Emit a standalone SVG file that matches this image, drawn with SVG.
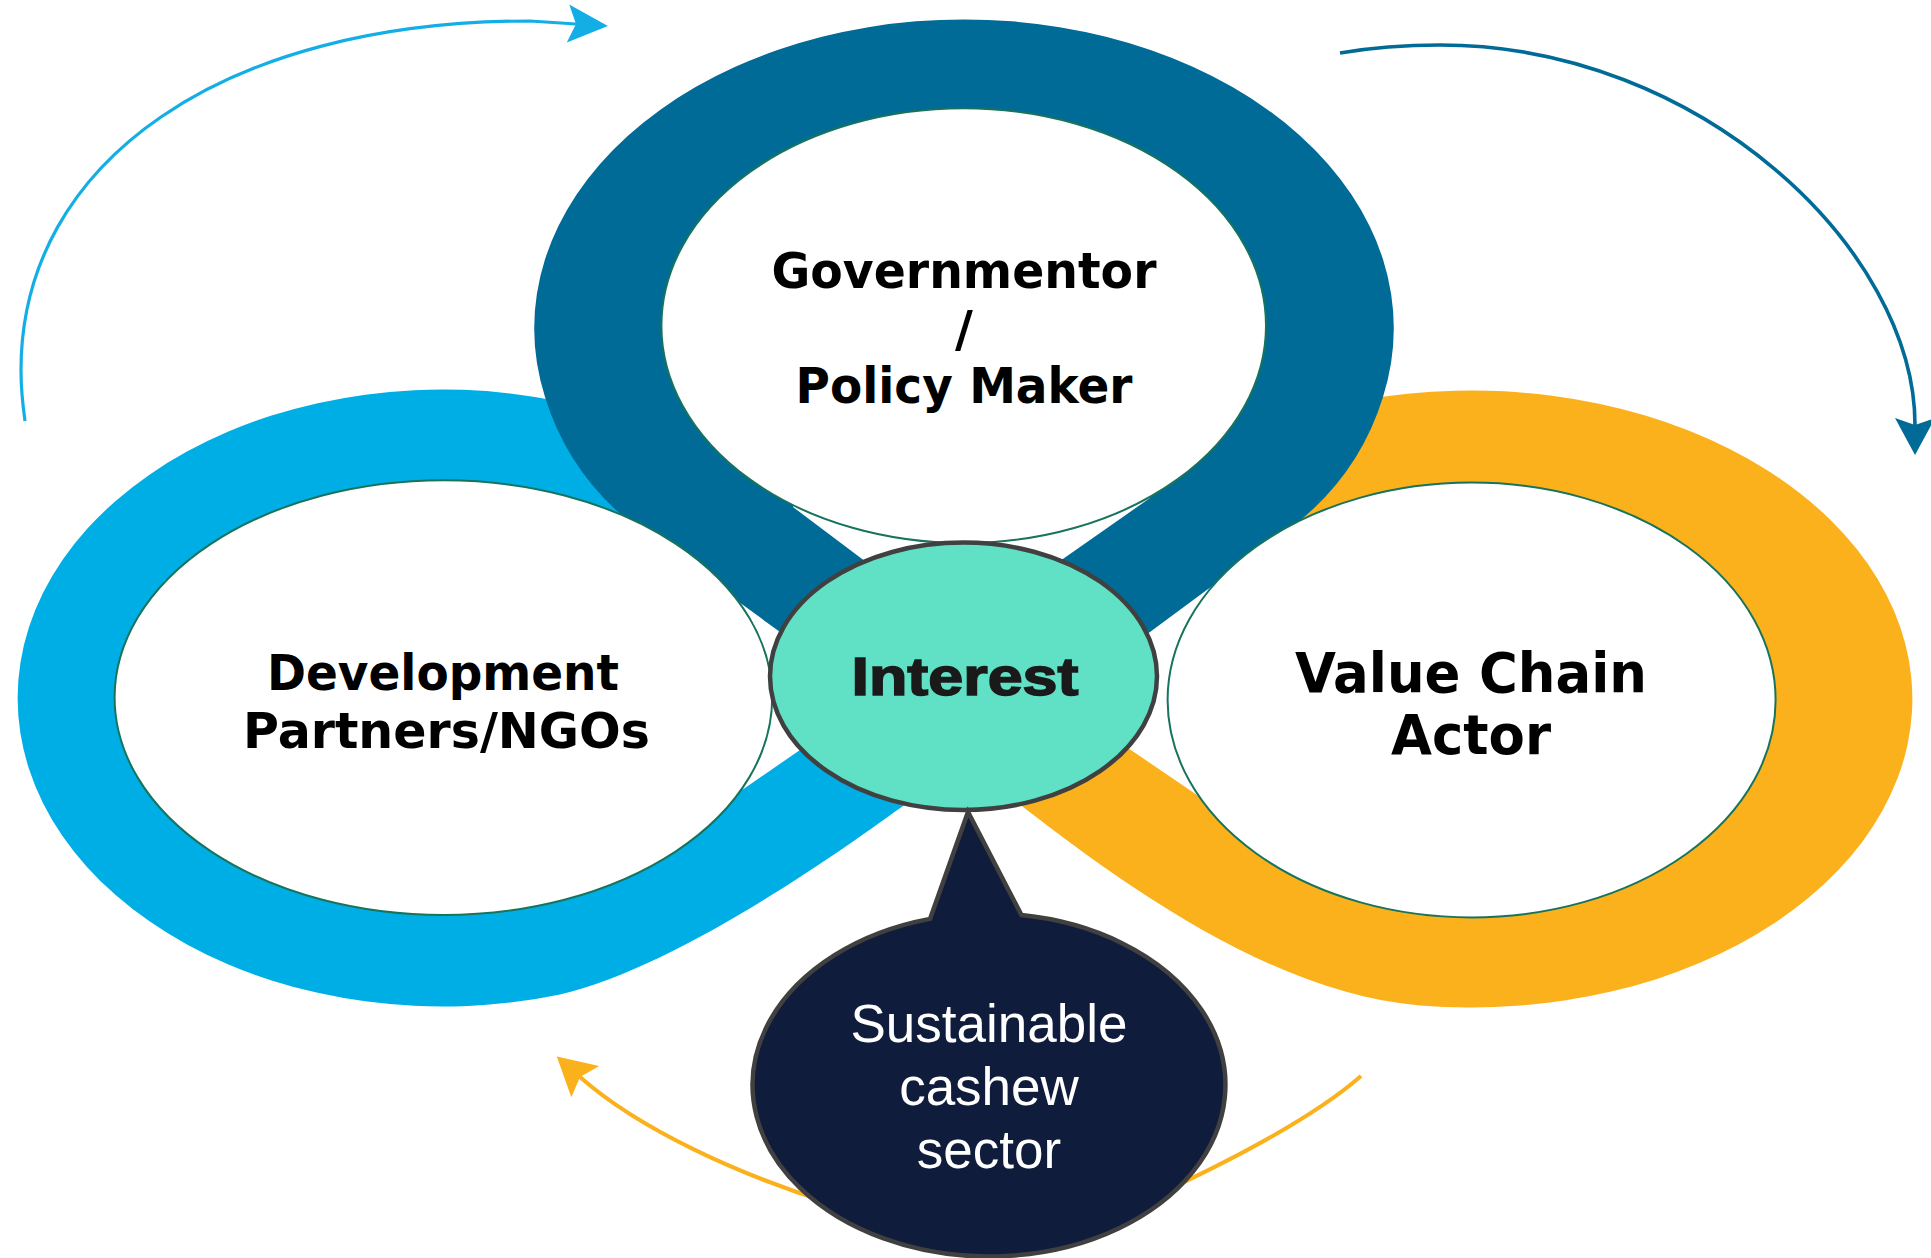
<svg xmlns="http://www.w3.org/2000/svg" width="1931" height="1258" viewBox="0 0 1931 1258">
<style>
.ring-lb{fill:#00aee6}
.ring-db{fill:#006b97}
.ring-or{fill:#fbb11b}
.oval{fill:#ffffff;stroke:#17735c;stroke-width:2}
.lbl{font-family:"DejaVu Sans",Verdana,sans-serif;font-weight:bold;font-size:49px;fill:#000000;text-anchor:middle}
.lbl-lg{font-size:55px}
.interest{fill:#60e0c4;stroke:#404040;stroke-width:4.5}
.int-t{font-family:"Liberation Sans",Arial,sans-serif;font-weight:bold;font-size:54px;fill:#1a1a1a;stroke:#1a1a1a;stroke-width:1.6;text-anchor:middle}
.bubble{fill:#101c3c;stroke:#404040;stroke-width:4.5;stroke-linejoin:miter}
.bub-t{font-family:"Liberation Sans",Arial,sans-serif;font-size:53px;fill:#ffffff;text-anchor:middle}
.arc{fill:none}
.arc-lb{stroke:#14aee6;stroke-width:3.2}
.arc-db{stroke:#006b97;stroke-width:3.6}
.arc-or{stroke:#fbb11b;stroke-width:4}
</style>
<defs>
<marker id="ah-lb" markerUnits="userSpaceOnUse" viewBox="-10 -22 46 44" refX="0" refY="0" markerWidth="46" markerHeight="44" orient="auto"><path d="M32,0 L-8,-19 L0,0 L-8,19 Z" fill="#14aee6"/></marker>
<marker id="ah-db" markerUnits="userSpaceOnUse" viewBox="-10 -22 46 44" refX="0" refY="0" markerWidth="46" markerHeight="44" orient="auto"><path d="M30,0 L-7,-20 L0,0 L-7,20 Z" fill="#006b97"/></marker>
<marker id="ah-or" markerUnits="userSpaceOnUse" viewBox="-10 -22 46 44" refX="0" refY="0" markerWidth="46" markerHeight="44" orient="auto"><path d="M31,0 L-7,-21 L0,0 L-7,21 Z" fill="#fbb11b"/></marker>
</defs>

<g id="loops">
<g id="loop-development">
<path class="ring-lb" d="M 560,401.5 A 425 308.5 0 1 0 560,994.5 C 677,968 842,850.3 906.7,803.3 L 940,770 L 880,700 L 800,750 L 746.7,786.7 L 730,798 L 620,600 L 660,520 L 600,420 Z"/>
</g>
<g id="loop-valuechain">
<path class="ring-or" d="M 1360,400.5 A 441 308.5 0 1 1 1420,1005.4 C 1270.5,993.1 1118,880.2 1023,807 L 990,780 L 1100,720 L 1128,748 L 1197,795 L 1215,808 L 1300,650 L 1268,560 L 1250,520 L 1300,440 Z"/>
</g>
<g id="loop-governmentor">
<path class="ring-db" d="M 840,670 L 780,632 L 640,530 Q 570,478 545,397 A 429.8 308.8 0 1 1 1383,397 Q 1358,478 1288,530 L 1150,632 L 1090,670 L 1030,610 L 1040,575 L 1150,498 L 1110,440 L 820,440 L 793,507 L 890,580 L 900,640 Z"/>
</g>
</g>

<g id="node-governmentor">
<ellipse class="oval" cx="963.7" cy="325.7" rx="302.3" ry="217.4"/>
<text class="lbl" x="964" y="288" textLength="385" lengthAdjust="spacingAndGlyphs">Governmentor</text>
<text class="lbl" x="964" y="346">/</text>
<text class="lbl" x="964" y="403" textLength="337" lengthAdjust="spacingAndGlyphs">Policy Maker</text>
</g>

<g id="node-development">
<ellipse class="oval" cx="443.4" cy="697.6" rx="328.8" ry="217.4"/>
<text class="lbl" x="443" y="690" textLength="352" lengthAdjust="spacingAndGlyphs">Development</text>
<text class="lbl" x="446.5" y="748" textLength="407" lengthAdjust="spacingAndGlyphs">Partners/NGOs</text>
</g>

<g id="node-valuechain">
<ellipse class="oval" cx="1471.6" cy="700" rx="304" ry="217.4"/>
<text class="lbl lbl-lg" x="1471" y="692" textLength="352" lengthAdjust="spacingAndGlyphs">Value Chain</text>
<text class="lbl lbl-lg" x="1471" y="754" textLength="160" lengthAdjust="spacingAndGlyphs">Actor</text>
</g>

<g id="node-interest">
<ellipse class="interest" cx="963.5" cy="676.3" rx="193.5" ry="133.7"/>
<text class="int-t" x="965" y="695" textLength="227" lengthAdjust="spacingAndGlyphs">Interest</text>
</g>

<g id="connectors">
<path class="arc arc-lb" d="M 25,421 C 22,400 21,385 21,370 C 21,160.6 224.6,21 530,21 L 576,24" marker-end="url(#ah-lb)"/>
<path class="arc arc-db" d="M 1340,53 C 1375,47 1405,45 1440,45 C 1700,45 1915,250 1915,425" marker-end="url(#ah-db)"/>
<path class="arc arc-or" d="M 830,1203 C 740,1175 640,1130 580,1077" marker-end="url(#ah-or)"/>
<path class="arc arc-or" d="M 1361,1076 C 1320,1112 1250,1152 1150,1198"/>
</g>

<g id="node-sector">
<path class="bubble" d="M 930,918.9 L 968,812 L 1021.5,915.1 A 236.4 171.5 0 1 1 930,918.9 Z"/>
<text class="bub-t" x="989" y="1042">Sustainable</text>
<text class="bub-t" x="989" y="1105">cashew</text>
<text class="bub-t" x="989" y="1168">sector</text>
</g>
</svg>
